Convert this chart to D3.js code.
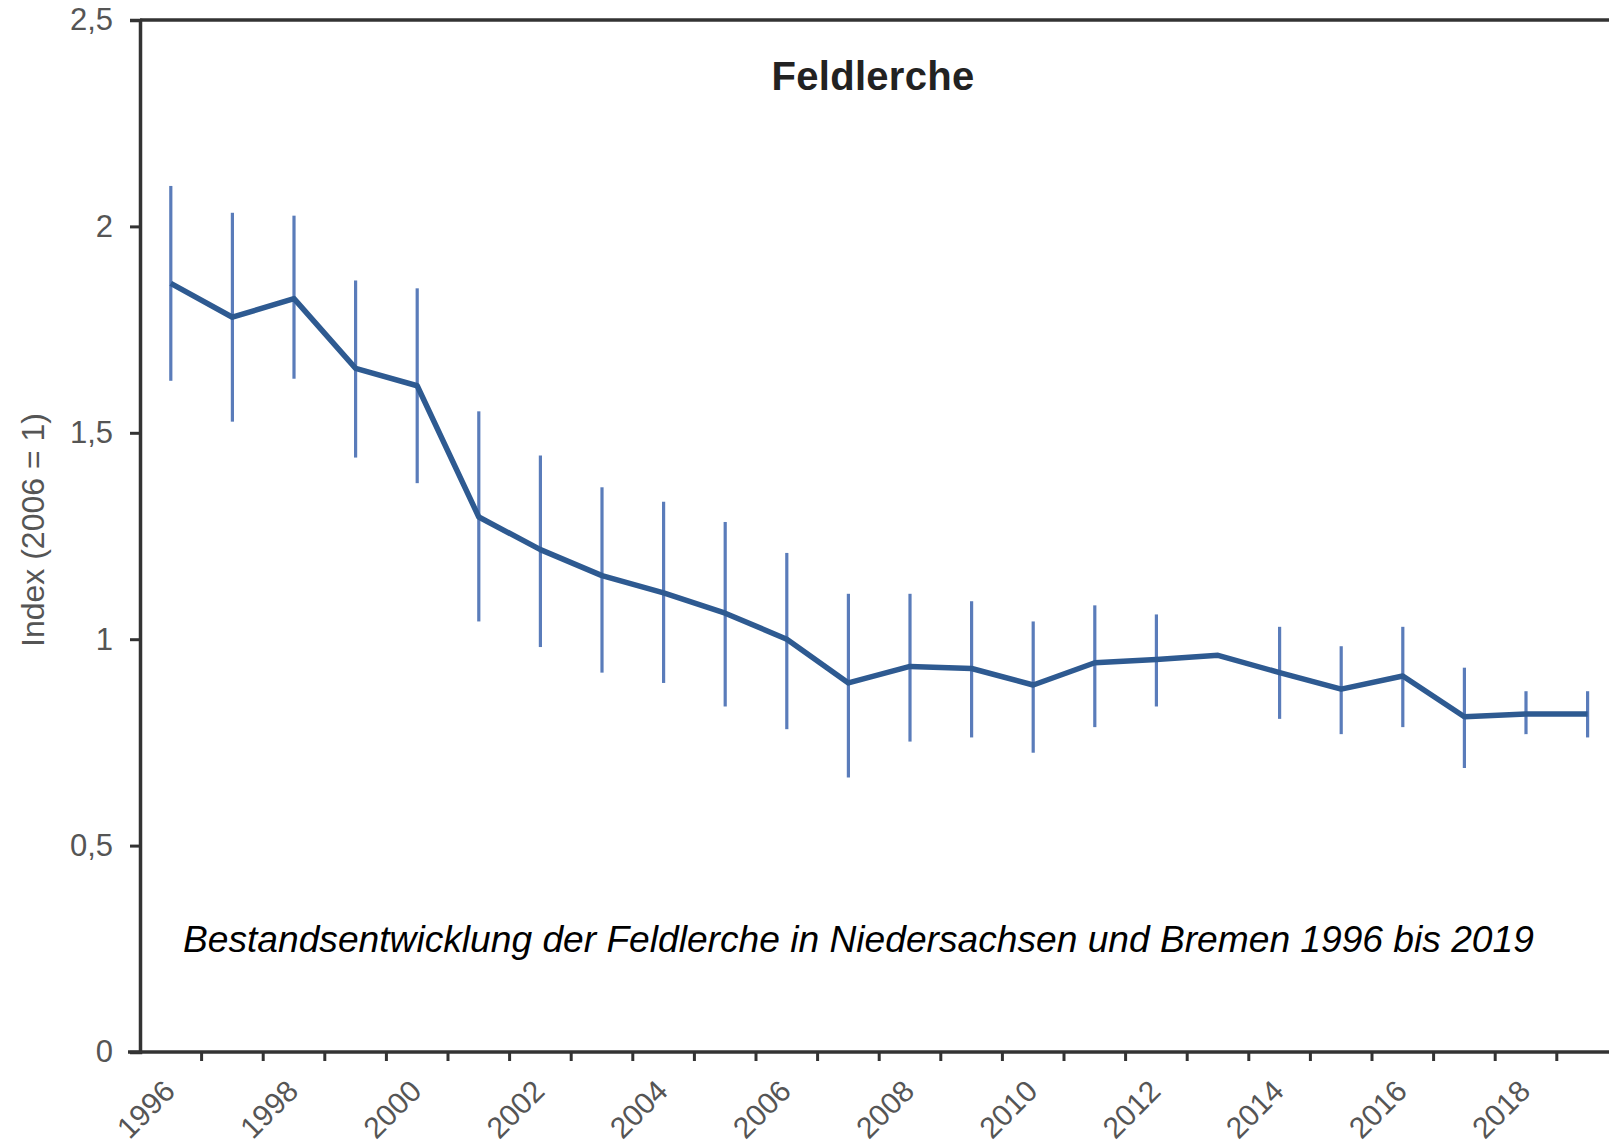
<!DOCTYPE html>
<html>
<head>
<meta charset="utf-8">
<script src="https://cdn.jsdelivr.net/npm/d3@7"></script>
<style>
  html, body { margin: 0; padding: 0; background: #fff; }
  svg { display: block; }
</style>
</head>
<body>
<svg id="chart" width="1609" height="1145"></svg>
<script>
// ---- data ----
const years = [1996,1997,1998,1999,2000,2001,2002,2003,2004,2005,2006,2007,2008,2009,2010,2011,2012,2013,2014,2015,2016,2017,2018,2019];
const indexValues = [1.862,1.780,1.825,1.656,1.614,1.296,1.217,1.154,1.112,1.063,1.000,0.894,0.934,0.929,0.889,0.943,0.951,0.961,0.919,0.879,0.911,0.812,0.819,0.819];
const upperCI = [2.098,2.033,2.026,1.869,1.850,1.552,1.445,1.368,1.333,1.284,1.209,1.110,1.110,1.092,1.043,1.082,1.060,null,1.030,0.983,1.030,0.931,0.874,0.874];
const lowerCI = [1.626,1.527,1.631,1.440,1.378,1.043,0.981,0.919,0.894,0.837,0.782,0.665,0.752,0.762,0.725,0.787,0.837,null,0.807,0.770,0.787,0.688,0.770,0.762];
const yTickValues = [0, 0.5, 1, 1.5, 2, 2.5];
const yTickLabels = ["0", "0,5", "1", "1,5", "2", "2,5"];
const xLabelYears = [1996,1998,2000,2002,2004,2006,2008,2010,2012,2014,2016,2018];
const titleText = "Feldlerche";
const yAxisTitle = "Index (2006 = 1)";
const captionText = "Bestandsentwicklung der Feldlerche in Niedersachsen und Bremen 1996 bis 2019";

(function () {
// ---- layout ----
const W = 1609, H = 1145;
const mLeft = 140, mTop = 20, mBottom = 1052;
const step = 61.6;
const svg = d3.select("#chart");

const x = d3.scaleBand().domain(years).range([mLeft, mLeft + step * years.length]).paddingInner(0).paddingOuter(0);
const y = d3.scaleLinear().domain([0, 2.5]).range([mBottom, mTop]);
const cx = d => x(d) + x.bandwidth() / 2;

const axisColor = "#333";
const labelColor = "#555";
const font = "'Liberation Sans', Arial, sans-serif";

// frame: top line
svg.append("line")
  .attr("x1", mLeft).attr("x2", W).attr("y1", y(2.5)).attr("y2", y(2.5))
  .attr("stroke", axisColor).attr("stroke-width", 3.5);

// y axis
const yAxis = d3.axisLeft(y).tickValues(yTickValues)
  .tickFormat((d, i) => yTickLabels[i]).tickSize(10).tickPadding(17);
const gy = svg.append("g").attr("transform", `translate(${mLeft},0)`).call(yAxis);
gy.select(".domain").attr("stroke", axisColor).attr("stroke-width", 3.5);
gy.selectAll(".tick line").attr("stroke", axisColor).attr("stroke-width", 3);
gy.selectAll(".tick text").attr("fill", labelColor).attr("font-size", 31).attr("font-family", font);

// x axis (ticks at band boundaries)
const boundaries = d3.range(1, years.length + 1).map(i => mLeft + i * step);
const gx = svg.append("g");
gx.append("line").attr("x1", mLeft - 12).attr("x2", W).attr("y1", mBottom).attr("y2", mBottom)
  .attr("stroke", axisColor).attr("stroke-width", 3.5);
gx.selectAll("line.tk").data(boundaries).join("line").attr("class", "tk")
  .attr("x1", d => d).attr("x2", d => d).attr("y1", mBottom).attr("y2", mBottom + 9)
  .attr("stroke", axisColor).attr("stroke-width", 3);
gx.selectAll("text").data(xLabelYears).join("text")
  .attr("transform", d => `translate(${cx(d) + 6},${mBottom + 41}) rotate(-45)`)
  .attr("text-anchor", "end")
  .attr("font-size", 30).attr("font-family", font).attr("fill", labelColor)
  .text(d => d);

// y axis title
svg.append("text")
  .attr("transform", `translate(44,530) rotate(-90)`)
  .attr("text-anchor", "middle")
  .attr("font-size", 32).attr("font-family", font).attr("fill", labelColor)
  .text(yAxisTitle);

// title
svg.append("text")
  .attr("x", 873).attr("y", 90).attr("text-anchor", "middle")
  .attr("font-size", 40).attr("font-weight", "bold").attr("font-family", font)
  .attr("letter-spacing", 0.3)
  .attr("fill", "#222")
  .text(titleText);

// error bars
const ebData = years.map((yr, i) => ({yr, lo: lowerCI[i], hi: upperCI[i]})).filter(d => d.lo != null);
svg.append("g").selectAll("line").data(ebData).join("line")
  .attr("x1", d => cx(d.yr)).attr("x2", d => cx(d.yr))
  .attr("y1", d => y(d.lo)).attr("y2", d => y(d.hi))
  .attr("stroke", "#5a7cba").attr("stroke-width", 3.2);

// main line
const line = d3.line().x((d, i) => cx(years[i])).y(d => y(d));
svg.append("path").datum(indexValues)
  .attr("d", line).attr("fill", "none")
  .attr("stroke", "#2e5a91").attr("stroke-width", 5.5).attr("stroke-linejoin", "round");

// caption
const cap = svg.append("text")
  .attr("x", 183).attr("y", 952)
  .attr("font-size", 34).attr("font-style", "italic").attr("font-family", font)
  .attr("fill", "#000")
  .text(captionText);
const targetW = 1351;
const w0 = cap.node().getComputedTextLength();
cap.attr("font-size", 34 * targetW / w0);
})();
</script>
</body>
</html>
